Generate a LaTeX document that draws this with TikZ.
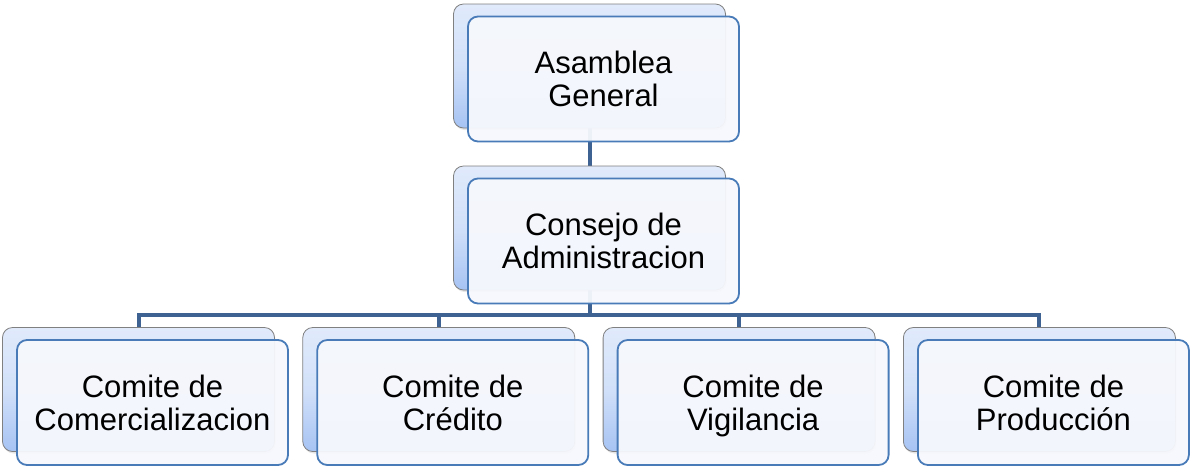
\documentclass[tikz,border=0pt]{standalone}
\usepackage{fontspec}
\setmainfont{Liberation Sans}
\usetikzlibrary{positioning,shadows,backgrounds}

\definecolor{backtop}{RGB}{224,234,251}
\definecolor{backbot}{RGB}{166,195,243}
\definecolor{backline}{RGB}{128,128,128}
\definecolor{frontline}{RGB}{72,123,184}
\definecolor{frontfill}{RGB}{246,248,253}
\definecolor{linkblue}{RGB}{62,98,145}

\tikzset{
  backbox/.style={rectangle, rounded corners=10pt, draw=backline, line width=0.8pt,
    top color=backtop, bottom color=backbot, middle color=backtop!75!backbot,
    minimum width=272pt, minimum height=124pt, inner sep=0pt,
    drop shadow={opacity=0.2, shadow xshift=1pt, shadow yshift=-2pt}},
  frontbox/.style={rectangle, rounded corners=10pt, draw=frontline, line width=1.8pt,
    fill=frontfill, fill opacity=0.95, text opacity=1,
    minimum width=271pt, minimum height=125pt, inner sep=0pt, align=center,
    font=\fontsize{31}{33}\selectfont},
  link/.style={draw=linkblue, line width=4pt}
}

\begin{document}
\begin{tikzpicture}[x=1pt, y=-1pt]
    \useasboundingbox (0,0) rectangle (1192,467);
    % top levels
    \node[backbox] (asambleaB) at (589.5,66) {};
    \node[frontbox] (asamblea) at ([shift={(14,13)}]asambleaB) {Asamblea\\General};
    \node[backbox] (consejoB) at (589.5,228) {};
    \node[frontbox] (consejo) at ([shift={(14,13)}]consejoB) {Consejo de\\Administracion};
    % committees
    \foreach \i/\txt in {0/{Comite de\\Comercializacion}, 1/{Comite de\\Crédito},
                         2/{Comite de\\\smash{Vigilancia}}, 3/{Comite de\\Producción}} {
        \node[backbox] (comiteB\i) at (138.5+300.3*\i,389.5) {};
        \node[frontbox] (comite\i) at ([shift={(14,13)}]comiteB\i) {\txt};
    }
    % connectors behind the boxes
    \begin{scope}[on background layer]
        \draw[link] (asambleaB.south) -- (consejoB.north);
        \foreach \i in {0,...,3}
            \draw[link] (consejoB.south) -- ++(0,25) -| (comiteB\i.north);
    \end{scope}
\end{tikzpicture}
\end{document}
